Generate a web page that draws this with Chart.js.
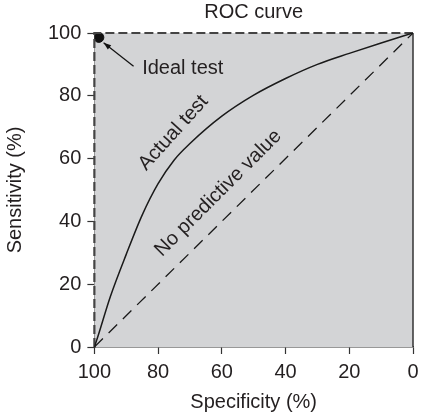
<!DOCTYPE html>
<html>
<head>
<meta charset="utf-8">
<script src="https://cdn.jsdelivr.net/npm/chart.js@4.4.1/dist/chart.umd.min.js"></script>
<style>
  html, body { margin: 0; padding: 0; background: #fff; }
  #wrap { width: 421px; height: 414px; }
</style>
</head>
<body>
<div id="wrap"><canvas id="grafico_roc"></canvas></div>
<script>
// valores
var especificidade = [100, 99, 95, 90, 85, 80, 75, 70, 60, 50, 40, 30, 20, 10, 0];
var sensibilidade = [0, 3, 16, 29.5, 42, 52, 59.5, 64.8, 73.5, 80.2, 85.5, 90, 93.5, 96.8, 100];
var semValorX = [100, 0];
var semValorY = [0, 100];
var idealX = [100, 100, 0];
var idealY = [0, 100, 100];
var pontoIdeal = [98.6, 98.6];
var ticksEixo = [0, 20, 40, 60, 80, 100];

var titulo = "ROC curve";
var tituloX = "Specificity (%)";
var tituloY = "Sensitivity (%)";

// textos dentro do grafico: [texto, x, y, angulo, alinhamento]
var rotulos = [
	["Actual test", 75.2, 68.2, -48, "center"],
	["No predictive value", 61.1, 49.0, -45, "center"],
	["Ideal test", 85, 88.6, 0, "left"],
];
var seta = { de: [87.7, 89.4], para: [97.1, 96.9] };

var corTexto = "#231f20";
var fonte = "'Liberation Sans', Arial, sans-serif";

function juntar(xs, ys) {
	return xs.map(function (x, i) {
		return { x: x, y: ys[i] };
	});
}

var fundoPlugin = {
	id: "fundo",
	beforeDatasetsDraw: function (chart) {
		var ctx = chart.ctx;
		var a = chart.chartArea;
		ctx.save();
		ctx.fillStyle = "#d3d4d6";
		ctx.fillRect(a.left, a.top, a.right - a.left, a.bottom - a.top);
		ctx.strokeStyle = "#333";
		ctx.lineWidth = 1.5;
		ctx.beginPath();
		ctx.moveTo(a.right, a.top);
		ctx.lineTo(a.right, a.bottom);
		ctx.stroke();
		ctx.restore();
	},
};

var textosPlugin = {
	id: "textos",
	afterDatasetsDraw: function (chart) {
		var ctx = chart.ctx;
		var sx = chart.scales.x;
		var sy = chart.scales.y;
		var a = chart.chartArea;
		ctx.save();
		ctx.fillStyle = corTexto;
		ctx.font = "20px " + fonte;
		ctx.textBaseline = "middle";

		// titulo centrado na area do grafico
		ctx.textAlign = "center";
		ctx.fillText(titulo, (a.left + a.right) / 2, 12);

		rotulos.forEach(function (r) {
			ctx.save();
			ctx.translate(sx.getPixelForValue(r[1]), sy.getPixelForValue(r[2]));
			ctx.rotate((r[3] * Math.PI) / 180);
			ctx.textAlign = r[4];
			ctx.fillText(r[0], 0, 0);
			ctx.restore();
		});

		// seta do "Ideal test"
		var x1 = sx.getPixelForValue(seta.de[0]);
		var y1 = sy.getPixelForValue(seta.de[1]);
		var x2 = sx.getPixelForValue(seta.para[0]);
		var y2 = sy.getPixelForValue(seta.para[1]);
		var ang = Math.atan2(y2 - y1, x2 - x1);
		ctx.strokeStyle = "#111";
		ctx.lineWidth = 1.2;
		ctx.beginPath();
		ctx.moveTo(x1, y1);
		ctx.lineTo(x2, y2);
		ctx.stroke();
		ctx.fillStyle = "#111";
		ctx.beginPath();
		ctx.moveTo(x2, y2);
		ctx.lineTo(x2 - 8 * Math.cos(ang - 0.35), y2 - 8 * Math.sin(ang - 0.35));
		ctx.lineTo(x2 - 8 * Math.cos(ang + 0.35), y2 - 8 * Math.sin(ang + 0.35));
		ctx.closePath();
		ctx.fill();
		ctx.restore();
	},
};

var eixo = function (textoTitulo, reverso, paddingTitulo) {
	return {
		type: "linear",
		min: 0,
		max: 100,
		reverse: reverso,
		afterBuildTicks: function (scale) {
			scale.ticks = ticksEixo.map(function (v) {
				return { value: v };
			});
		},
		ticks: {
			color: corTexto,
			font: { size: 20, family: fonte },
			padding: 6,
			maxRotation: 0,
		},
		grid: {
			drawOnChartArea: false,
			drawTicks: true,
			tickLength: 7,
			tickColor: "#333",
			tickWidth: 1.2,
		},
		border: { display: true, color: "#333", width: 1.5 },
		title: {
			display: true,
			text: textoTitulo,
			color: corTexto,
			font: { size: 20, family: fonte },
			padding: paddingTitulo,
		},
	};
};

var config = {
	type: "scatter",
	data: {
		datasets: [
			{
				label: "Actual test",
				data: juntar(especificidade, sensibilidade),
				showLine: true,
				cubicInterpolationMode: "monotone",
				borderColor: "#1a1a1a",
				borderWidth: 1.5,
				pointRadius: 0,
			},
			{
				label: "No predictive value",
				data: juntar(semValorX, semValorY),
				showLine: true,
				borderColor: "#1a1a1a",
				borderWidth: 1.3,
				borderDash: [12, 8],
				pointRadius: 0,
			},
			{
				label: "Ideal",
				data: juntar(idealX, idealY),
				showLine: true,
				borderColor: "#444",
				borderWidth: 2.2,
				borderDash: [9, 4],
				pointRadius: 0,
				clip: false,
			},
			{
				label: "Ideal test",
				data: [{ x: pontoIdeal[0], y: pontoIdeal[1] }],
				pointRadius: 5,
				pointBackgroundColor: "#111",
				pointBorderColor: "#111",
			},
		],
	},
	options: {
		responsive: true,
		maintainAspectRatio: false,
		animation: false,
		layout: { padding: { left: 2, right: 8, top: 33, bottom: 0 } },
		scales: {
			x: eixo(tituloX, true, { top: 0, bottom: 0 }),
			y: eixo(tituloY, false, { top: 1, bottom: 15 }),
		},
		plugins: {
			legend: { display: false },
			tooltip: { enabled: false },
			title: { display: false },
		},
	},
	plugins: [fundoPlugin, textosPlugin],
};

var myChart = new Chart(document.getElementById("grafico_roc"), config);
</script>
</body>
</html>
